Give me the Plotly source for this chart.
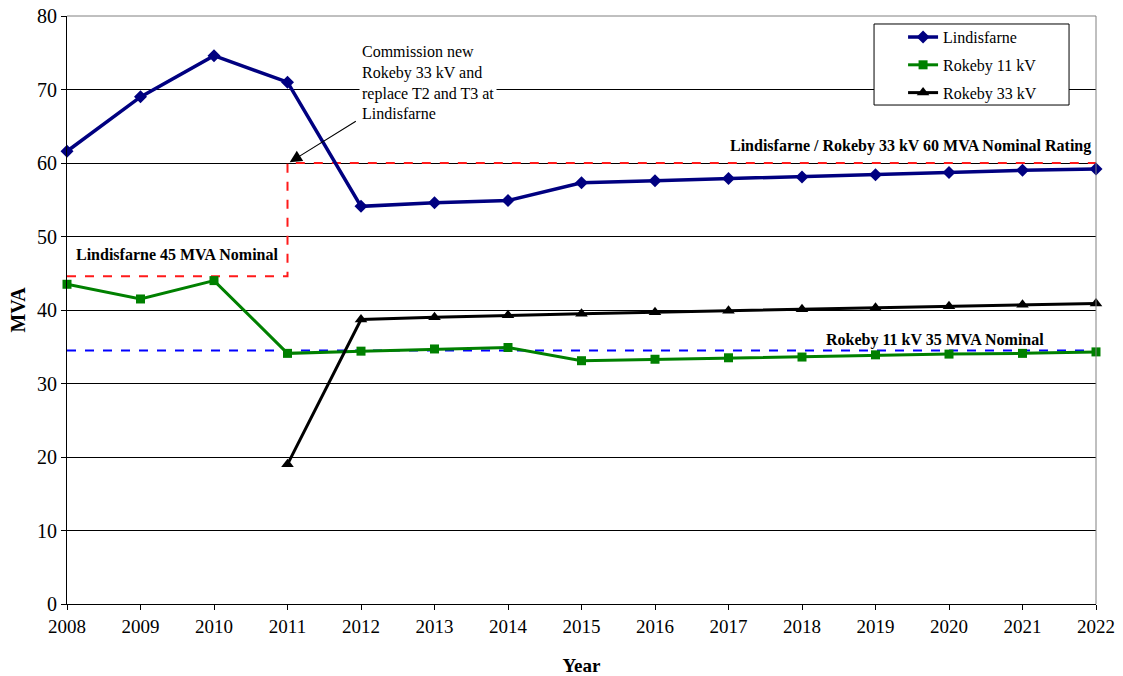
import plotly.graph_objects as go

years = list(range(2008, 2023))
lindisfarne = [61.6, 69.0, 74.6, 71.0, 54.1, 54.6, 54.9, 57.3, 57.6, 57.9, 58.1, 58.4, 58.7, 59.0, 59.2]
rokeby_11 = [43.5, 41.5, 44.0, 34.1, 34.4, 34.7, 34.9, 33.1, 33.3, 33.5, 33.6, 33.9, 34.0, 34.1, 34.3]
rokeby_33_years = list(range(2011, 2023))
rokeby_33 = [19.0, 38.7, 39.0, 39.3, 39.5, 39.7, 39.9, 40.1, 40.3, 40.5, 40.7, 40.9]

# Nominal ratings
lindis_rating_x = [2008, 2011, 2011, 2022]
lindis_rating_y = [44.6, 44.6, 60.0, 60.0]
rokeby11_rating_x = [2008, 2022]
rokeby11_rating_y = [34.5, 34.5]

FONT = "Liberation Serif"

fig = go.Figure()

fig.add_trace(go.Scatter(
    x=lindis_rating_x, y=lindis_rating_y, mode="lines",
    line=dict(color="#ff1a1a", width=2, dash="dash"),
    showlegend=False, hoverinfo="skip", cliponaxis=False))
fig.add_trace(go.Scatter(
    x=rokeby11_rating_x, y=rokeby11_rating_y, mode="lines",
    line=dict(color="#0000ff", width=2, dash="dash"),
    showlegend=False, hoverinfo="skip", cliponaxis=False))

fig.add_trace(go.Scatter(
    x=years, y=lindisfarne, name="Lindisfarne", mode="lines+markers",
    legendgroup="a",
    line=dict(color="#000080", width=3.5),
    marker=dict(symbol="diamond", size=10, color="#000080"),
    cliponaxis=False))
fig.add_trace(go.Scatter(
    x=years, y=rokeby_11, name="Rokeby 11 kV", mode="lines+markers",
    legendgroup="b",
    line=dict(color="#008000", width=3),
    marker=dict(symbol="square", size=9, color="#008000"),
    cliponaxis=False))
fig.add_trace(go.Scatter(
    x=rokeby_33_years, y=rokeby_33, name="Rokeby 33 kV", mode="lines+markers",
    legendgroup="c",
    line=dict(color="#000000", width=3),
    marker=dict(symbol="triangle-up", size=11, color="#000000"),
    cliponaxis=False))

annotations = [
    dict(x=2008.1, y=47.6, xref="x", yref="y", xanchor="left", yanchor="middle",
         text="<b>Lindisfarne 45 MVA Nominal</b>", showarrow=False,
         font=dict(family=FONT, size=16, color="#000")),
    dict(x=2021.96, y=62.3, xref="x", yref="y", xanchor="right", yanchor="middle",
         text="<b>Lindisfarne / Rokeby 33 kV 60 MVA Nominal Rating</b>", showarrow=False,
         font=dict(family=FONT, size=16, color="#000")),
    dict(x=2019.81, y=35.9, xref="x", yref="y", xanchor="center", yanchor="middle",
         text="<b>Rokeby 11 kV 35 MVA Nominal</b>", showarrow=False,
         font=dict(family=FONT, size=16, color="#000")),
    dict(x=2011.97, y=71.0, xref="x", yref="y", xanchor="left", yanchor="middle",
         text="Commission new<br>Rokeby 33 kV and<br>replace T2 and T3 at<br>Lindisfarne",
         align="left", showarrow=False, bgcolor="#ffffff", borderpad=2,
         font=dict(family=FONT, size=16, color="#000")),
    dict(x=2011.03, y=60.1, xref="x", yref="y", ax=2011.95, ay=65.8,
         axref="x", ayref="y", text="", showarrow=True,
         arrowhead=2, arrowsize=2.2, arrowwidth=1.1, arrowcolor="#000"),
]

fig.update_layout(
    width=1123, height=676,
    margin=dict(l=67, r=27, t=16, b=72),
    plot_bgcolor="#ffffff", paper_bgcolor="#ffffff",
    font=dict(family=FONT, size=16, color="#000"),
    annotations=annotations,
    legend=dict(
        x=0.8125, y=0.993, xanchor="left", yanchor="top",
        bgcolor="rgba(0,0,0,0)", borderwidth=0,
        font=dict(family=FONT, size=16, color="#000"),
        itemwidth=30, tracegroupgap=4),
    xaxis=dict(
        range=[2008, 2022], tickmode="array", tickvals=years,
        ticktext=[str(y) for y in years],
        showgrid=False, zeroline=False, automargin=False,
        showline=True, linecolor="#000", linewidth=1, mirror=False,
        ticks="outside", ticklen=5, tickcolor="#000",
        tickfont=dict(family=FONT, size=19),
        title=dict(text="<b>Year</b>", font=dict(family=FONT, size=19), standoff=22)),
    yaxis=dict(
        range=[0, 80], dtick=10, showgrid=True, gridcolor="#000", gridwidth=1,
        zeroline=False, showline=True, linecolor="#000", linewidth=1, automargin=False,
        ticks="outside", ticklen=5, tickcolor="#000",
        tickfont=dict(family=FONT, size=20),
        title=dict(text="<b>MVA</b>", font=dict(family=FONT, size=20), standoff=6)),
    shapes=[
        dict(type="line", xref="paper", yref="paper", x0=0, x1=1, y0=1, y1=1,
             line=dict(color="#808080", width=1)),
        dict(type="line", xref="paper", yref="paper", x0=1, x1=1, y0=0, y1=1,
             line=dict(color="#808080", width=1)),
        # legend frame
        dict(type="rect", xref="paper", yref="paper", layer="above",
             x0=0.7843, x1=0.9738, y0=0.8486, y1=0.9864,
             line=dict(color="#000", width=1), fillcolor="#ffffff"),
    ],
)

fig.write_html("out.html")
